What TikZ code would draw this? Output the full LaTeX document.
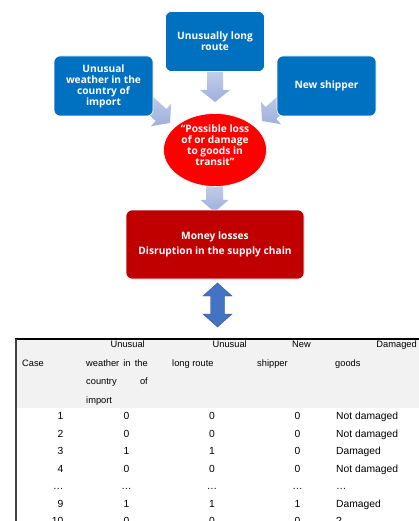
\documentclass[tikz,border=0pt]{standalone}
\usepackage{fontspec}
\setmainfont{Liberation Sans}
\newfontfamily\boxfont{Open Sans}
\usetikzlibrary{shapes.geometric,calc}
\definecolor{boxblue}{HTML}{0070C0}
\definecolor{lossred}{HTML}{FF0000}
\definecolor{moneyred}{HTML}{C00000}
\definecolor{arrowtop}{HTML}{C5CFEA}
\definecolor{arrowbot}{HTML}{9DAFDB}
\definecolor{dblue}{HTML}{4472C4}
\definecolor{dblueline}{HTML}{2F528F}
\definecolor{headgray}{HTML}{F2F2F2}
\newcommand\boxtext{\boxfont\bfseries\fontsize{10.2}{11}\selectfont}
\newcommand\tabtext{\fontsize{10.3}{12}\selectfont}
\newcommand\headtext{\fontsize{9.3}{12}\selectfont}
\newcommand\blkarrow[5]{%
  \coordinate (bkH) at ($(#2)!#5!(#1)$);
  \shade[top color=arrowtop, bottom color=arrowbot]
    ($(#1)!#3!90:(#2)$) -- ($(bkH)!#3!90:(#2)$) -- ($(bkH)!#4!90:(#2)$) -- (#2)
    -- ($(bkH)!#4!-90:(#2)$) -- ($(bkH)!#3!-90:(#2)$) -- ($(#1)!#3!-90:(#2)$) -- cycle;}
\begin{document}
\begin{tikzpicture}[x=1pt,y=-1pt,
  bluebox/.style={draw=white, line width=0.6pt, fill=boxblue, rounded corners=6pt,
    minimum width=99pt, minimum height=60pt, text=white, font=\boxtext, align=center, inner sep=0pt},
  wtext/.style={text=white, font=\boxtext, align=center, inner sep=0pt},
  cell/.style={font=\tabtext, inner sep=0pt},
  cl/.style={cell, anchor=base west},
  cr/.style={cell, anchor=base east},
  cc/.style={cell, anchor=base},
  hl/.style={font=\headtext, inner sep=0pt, anchor=base west},
  hr/.style={font=\headtext, inner sep=0pt, anchor=base east},
  hc/.style={font=\headtext, inner sep=0pt, anchor=base}]
\useasboundingbox (0,0) rectangle (419,521);
\clip (0,0) rectangle (419,521);
\fill[white] (0,0) rectangle (419,521);

% block arrows (behind the shapes)
\coordinate (ta1) at (215,70);   \coordinate (ta2) at (215,102);
\coordinate (la1) at (140,96);   \coordinate (la2) at (170,123);
\coordinate (ra1) at (290,96);   \coordinate (ra2) at (262,121);
\coordinate (ba1) at (214.5,183); \coordinate (ba2) at (214.5,212);
\blkarrow{ta1}{ta2}{8pt}{15pt}{12pt}
\blkarrow{la1}{la2}{8pt}{15pt}{12pt}
\blkarrow{ra1}{ra2}{8pt}{15pt}{12pt}
\blkarrow{ba1}{ba2}{8.5pt}{14pt}{12pt}

% boxes
\node[bluebox] (route) at (215,41.5) {Unusually long\\route};
\node[bluebox] (weather) at (103.5,86) {Unusual\\weather in the\\country of\\import};
\node[bluebox] (shipper) at (326.5,86) {New shipper};
\node[ellipse, fill=lossred, draw=white, line width=0.6pt, minimum width=103pt,
  minimum height=73pt, inner sep=0pt] (loss) at (215,150) {};
\node[wtext] (losstext) at (215,145.5) {“Possible loss\\of or damage\\to goods in\\transit”};
\node[draw=white, line width=0.6pt, fill=moneyred, rounded corners=6pt,
  minimum width=178pt, minimum height=69pt, inner sep=0pt] (money) at (215,244.5) {};
\node[wtext] (moneytext) at (215,244.5) {Money losses\\[4pt]Disruption in the supply chain};

% double arrow
\coordinate (dtop) at (217.5,283);
\filldraw[fill=dblue, draw=dblueline, line width=0.4pt]
  (dtop) -- ++(14.5,13) -- ++(-7.5,0) -- ++(0,18) -- ++(7.5,0) -- ++(-14.5,13)
  -- ++(-14.5,-13) -- ++(7.5,0) -- ++(0,-18) -- ++(-7.5,0) -- cycle;

% table
\fill[headgray] (16,339) rectangle (419,408);
\coordinate (tl) at (15,339); \coordinate (tr) at (419,339); \coordinate (bl) at (16,521);
\draw[line width=1.3pt] (tl) -- (tr);
\draw[line width=1.3pt, black!75] (16,339) -- (bl);

% header
\node[hr] (h2a) at (145,347) {Unusual};
\node[hr] (h3a) at (247,347) {Unusual};
\node[hr] (h4a) at (311,347) {New};
\node[hr] (h5a) at (417,347) {Damaged};
\node[hl] (h1) at (22,366) {Case};
\node[hl] (h2b) at (86,366) {weather};
\node[hc] (h2c) at (127,366) {in};
\node[hr] (h2d) at (148,366) {the};
\node[hl] (h3b) at (172,366) {long route};
\node[hl] (h4b) at (257,366) {shipper};
\node[hl] (h5b) at (335,366) {goods};
\node[hl] (h2e) at (86,384.5) {country};
\node[hr] (h2f) at (148,384.5) {of};
\node[hl] (h2g) at (86,403) {import};

% body
\foreach \y/\a/\b/\c/\d/\e [count=\i] in
  {419/1/0/0/0/Not damaged, 437/2/0/0/0/Not damaged, 454.5/3/1/1/0/Damaged,
   472/4/0/0/0/Not damaged, 489.5/…/…/…/…/…, 507/9/1/1/1/Damaged, 524.5/10/0/0/0/?}{
  \node[cr] (r\i a) at (63.5,\y) {\a};
  \node[cc] (r\i b) at (126.5,\y) {\b};
  \node[cc] (r\i c) at (212,\y) {\c};
  \node[cc] (r\i d) at (297.5,\y) {\d};
  \node[cl] (r\i e) at (336,\y) {\e};
}
\end{tikzpicture}
\end{document}
